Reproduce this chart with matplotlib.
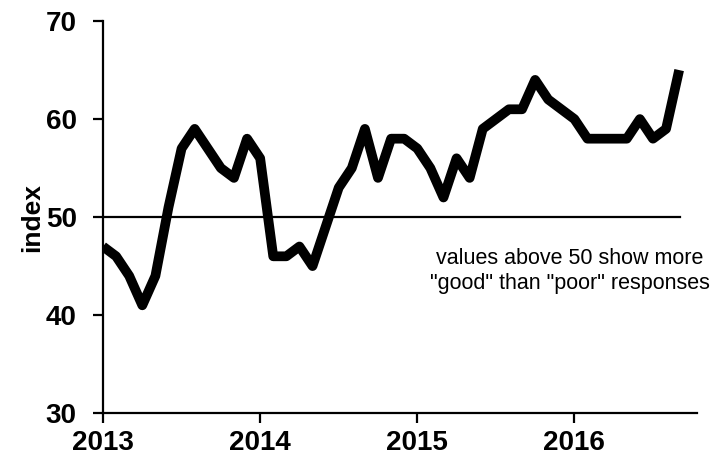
import matplotlib.pyplot as plt
import numpy as np

plt.rcParams.update({
    "font.family": ["Liberation Sans", "DejaVu Sans"],
})

# monthly index values, Jan 2013 .. Sep 2016
values_2013 = [47, 46, 44, 41, 44, 51, 57, 59, 57, 55, 54, 58]
values_2014 = [56, 46, 46, 47, 45, 49, 53, 55, 59, 54, 58, 58]
values_2015 = [57, 55, 52, 56, 54, 59, 60, 61, 61, 64, 62, 61]
values_2016 = [60, 58, 58, 58, 58, 60, 58, 59, 65]

year_ticks = [2013, 2014, 2015, 2016]
y_ticks = [30, 40, 50, 60, 70]
threshold = 50
note = "values above 50 show more\n\"good\" than \"poor\" responses"

values = values_2013 + values_2014 + values_2015 + values_2016
months = 2013 + np.arange(len(values)) / 12.0

fig = plt.figure(figsize=(7.13, 4.58), dpi=100)
ax = fig.add_axes([0.1445, 0.098, 0.833, 0.856])

ax.plot([2013, months[-1] + 0.005], [threshold, threshold], color="black", lw=1.6, zorder=2)
ax.plot(months, values, color="black", lw=7, solid_joinstyle="round",
        solid_capstyle="butt", zorder=3)

ax.set_xlim(2013, 2016.78)
ax.set_ylim(30, 70)
ax.set_xticks(year_ticks)
ax.set_xticklabels([str(y) for y in year_ticks])
ax.set_yticks(y_ticks)

for s in ["top", "right"]:
    ax.spines[s].set_visible(False)
for s in ["left", "bottom"]:
    ax.spines[s].set_linewidth(1.6)

ax.tick_params(axis="both", direction="out", length=7, width=1.6,
               labelsize=20)
ax.tick_params(axis="y", pad=12)
ax.tick_params(axis="x", pad=5)
for lab in ax.get_xticklabels() + ax.get_yticklabels():
    lab.set_fontweight("bold")

ax.set_ylabel("index", fontsize=19, fontweight="bold", labelpad=1)

ax.text(2015.97, 44.5, note, ha="center", va="center", fontsize=15.5,
        linespacing=1.25)

plt.savefig("out.png", dpi=100)
